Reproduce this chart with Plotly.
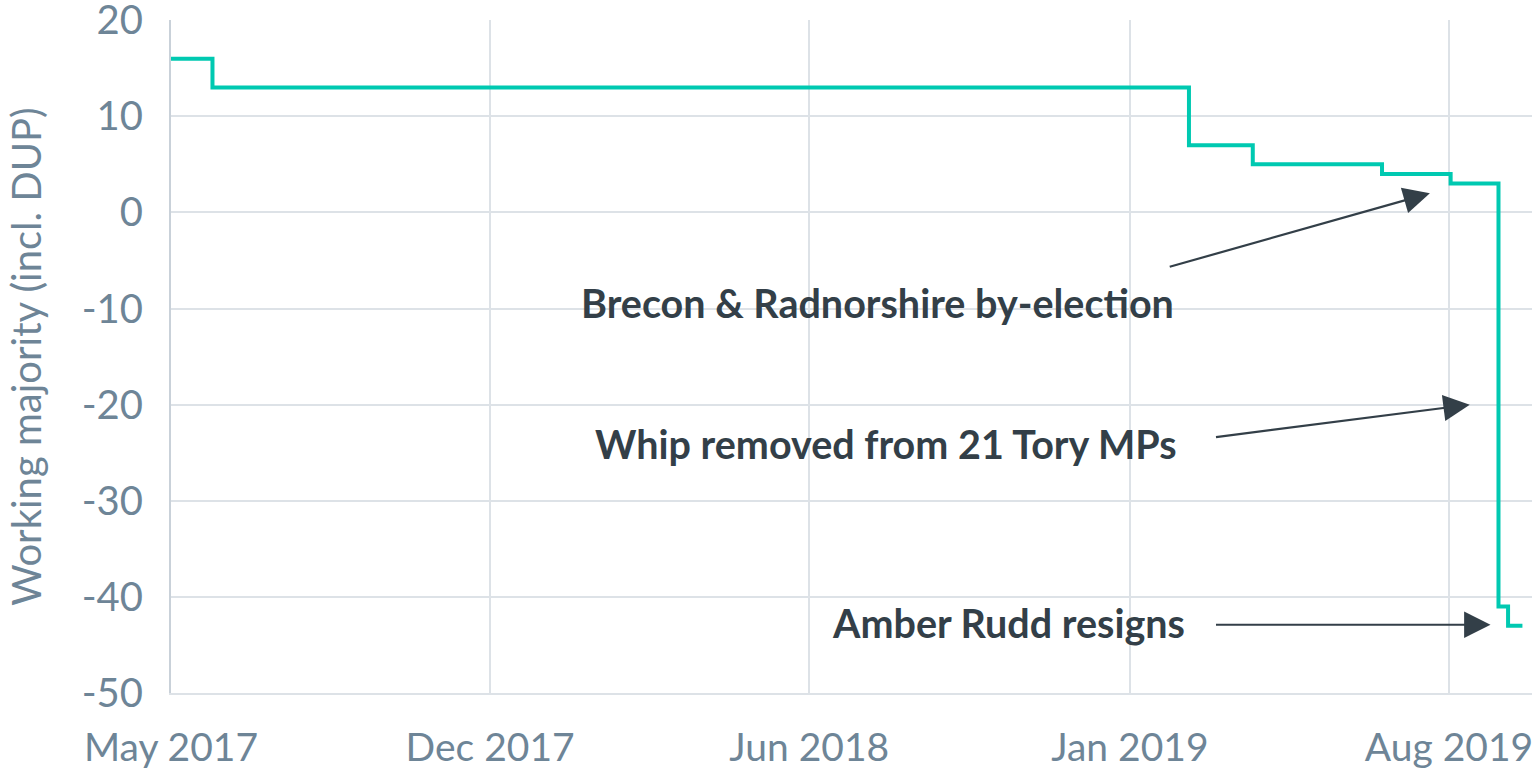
import plotly.graph_objects as go

# Data
dates = ["2017-05-24", "2017-06-19", "2019-02-21", "2019-04-02", "2019-06-22",
         "2019-08-04", "2019-09-03", "2019-09-09", "2019-09-18"]
majority = [16, 13, 7, 5, 4, 3, -41, -43, -43]

tick_dates = ["2017-05-24", "2017-12-10", "2018-06-28", "2019-01-15", "2019-08-03"]
tick_labels = ["May 2017", "Dec 2017", "Jun 2018", "Jan 2019", "Aug 2019"]
y_ticks = [20, 10, 0, -10, -20, -30, -40, -50]
y_tick_labels = ["20", "10", "0", "-10", "-20", "-30", "-40", "-50"]

labels = ["Brecon & Radnorshire by-election", "Whip removed from 21 Tory MPs", "Amber Rudd resigns"]
label_x = ["2018-08-10", "2019-02-15", "2019-02-20"]
label_y = [-9.35, -24.0, -42.7]
label_anchor = ["center", "right", "right"]
arrow_head_x = ["2019-07-22", "2019-08-16", "2019-08-29"]
arrow_head_y = [2.0, -20.0, -42.9]
arrow_tail_x = ["2019-02-08", "2019-03-09", "2019-03-09"]
arrow_tail_y = [-5.7, -23.4, -42.9]

LINE = "#00c9b1"
TXT = "#6e8597"
DARK = "#333f48"
GRID = "#dde2e7"
FONT = "Lato"

fig = go.Figure()
fig.add_trace(go.Scatter(x=dates, y=majority, mode="lines", line_shape="hv",
                         line=dict(color=LINE, width=4), hoverinfo="skip", cliponaxis=False))

annotations = []
for t, x, y, a in zip(labels, label_x, label_y, label_anchor):
    annotations.append(dict(x=x, y=y, xref="x", yref="y", text="<b>" + t + "</b>",
                            showarrow=False, xanchor=a, yanchor="middle",
                            font=dict(family=FONT, size=39.5, color=DARK)))
for hx, hy, tx, ty in zip(arrow_head_x, arrow_head_y, arrow_tail_x, arrow_tail_y):
    annotations.append(dict(x=hx, y=hy, ax=tx, ay=ty, xref="x", yref="y", axref="x", ayref="y",
                            text="", showarrow=True, arrowhead=2, arrowsize=2.4, arrowwidth=2.2,
                            arrowcolor=DARK))

fig.update_layout(
    width=1537, height=771,
    margin=dict(l=171, r=5, t=20, b=78, autoexpand=False),
    paper_bgcolor="white", plot_bgcolor="white",
    showlegend=False,
    annotations=annotations,
    xaxis=dict(type="date", range=["2017-05-24", "2019-09-24"],
               tickvals=tick_dates, ticktext=tick_labels, automargin=False,
               showgrid=True, gridcolor=GRID, gridwidth=2,
               showline=True, linecolor=GRID, linewidth=2,
               zeroline=False, ticks="", ticklabelstandoff=19,
               ticklabeloverflow="allow",
               tickfont=dict(family=FONT, size=39, color=TXT)),
    yaxis=dict(range=[-50, 20.02], tickvals=y_ticks, ticktext=y_tick_labels, automargin=False,
               showgrid=True, gridcolor=GRID, gridwidth=2,
               zeroline=False, showline=True, linecolor="#c9d1d9", linewidth=2,
               ticks="", ticklabelstandoff=18, ticklabeloverflow="allow",
               tickfont=dict(family=FONT, size=40, color=TXT),
               title=dict(text="Working majority (incl. DUP)", standoff=28,
                          font=dict(family=FONT, size=40, color=TXT))),
)

fig.write_html("out.html", config={"displayModeBar": False},
               post_script="document.body.style.margin='0px';")
